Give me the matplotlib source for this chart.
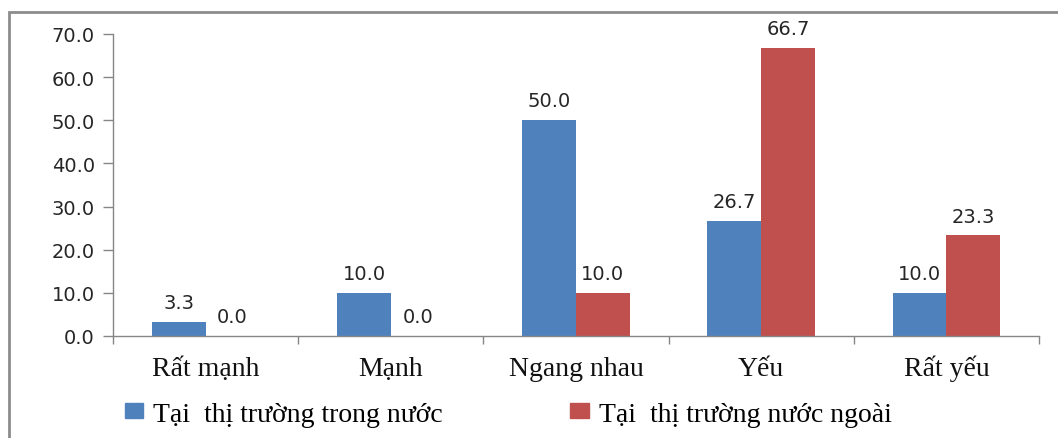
import matplotlib
matplotlib.use("Agg")
import matplotlib.pyplot as plt
import matplotlib.transforms as mtransforms
import numpy as np
from matplotlib.patches import Rectangle, Patch

categories = ["Rất mạnh", "Mạnh", "Ngang nhau", "Yếu", "Rất yếu"]
domestic = [3.3, 10.0, 50.0, 26.7, 10.0]
foreign = [0.0, 0.0, 10.0, 66.7, 23.3]
series_names = ["Tại  thị trường trong nước", "Tại  thị trường nước ngoài"]
yticks = [0, 10, 20, 30, 40, 50, 60, 70]

blue = "#4F81BD"
red = "#C0504D"
axis_grey = "#868686"
serif = ["Liberation Serif", "DejaVu Serif"]
sans = ["DejaVu Sans"]

W, H = 1058, 439
fig = plt.figure(figsize=(W / 100, H / 100), dpi=100)
ax_left, ax_right, ax_top, ax_bottom = 113, 1039, 35, 337
ax = fig.add_axes([ax_left / W, 1 - ax_bottom / H,
                   (ax_right - ax_left) / W, (ax_bottom - ax_top) / H])

x = np.arange(len(categories))
w = 0.29
b1 = ax.bar(x - w / 2, domestic, w, color=blue, zorder=2)
b2 = ax.bar(x + w / 2, foreign, w, color=red, zorder=2)

for bars, vals in ((b1, domestic), (b2, foreign)):
    for rect, v in zip(bars, vals):
        ax.annotate(f"{v:.1f}", (rect.get_x() + rect.get_width() / 2, v),
                    xytext=(0, 10), textcoords="offset points",
                    ha="center", va="baseline", fontsize=14,
                    family=sans, color="#262626")

ax.set_xlim(-0.5, len(categories) - 0.5)
ax.set_ylim(0, 70)
ax.set_yticks(yticks)
ax.set_yticklabels([f"{t:.1f}" for t in yticks], family=sans, fontsize=14, color="#262626")
ax.tick_params(axis="y", length=7.2, color=axis_grey, pad=5.8, width=1)

# boundary ticks between categories; names drawn on a shared baseline
ax.set_xticks([])
ax.set_xticks(np.arange(len(categories) + 1) - 0.5, minor=True)
ax.tick_params(axis="x", which="minor", length=6, color=axis_grey, width=1)
label_tf = mtransforms.blended_transform_factory(ax.transData, ax.transAxes)
base_y = -(376 - ax_bottom) / (ax_bottom - ax_top)
for xi, name in zip(x, categories):
    ax.text(xi, base_y, name, transform=label_tf, ha="center", va="baseline",
            family=serif, fontsize=20, color="#111111")

for side in ("top", "right"):
    ax.spines[side].set_visible(False)
for side in ("left", "bottom"):
    ax.spines[side].set_color(axis_grey)
    ax.spines[side].set_linewidth(1)

handles = [Patch(color=blue), Patch(color=red)]
fig.legend(handles, series_names, loc="center left", bbox_to_anchor=(125 / W, 1 - 415 / H),
           ncol=2, frameon=False, prop={"family": serif, "size": 20},
           handlelength=0.65, handleheight=0.47, handletextpad=0.36,
           columnspacing=4.6, borderpad=0, borderaxespad=0)

# outer frame of the chart area
fig.add_artist(Rectangle((9 / W, -0.05), 1.2, 1 - 13 / H + 0.05,
                         transform=fig.transFigure, fill=False,
                         edgecolor="#8c8c8c", linewidth=2))

fig.savefig("out.png", dpi=100)
